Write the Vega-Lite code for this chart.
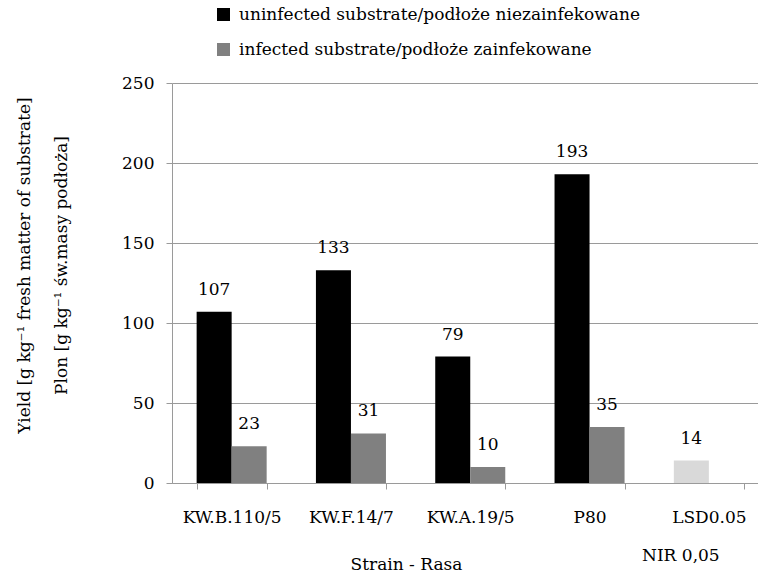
{
  "$schema": "https://vega.github.io/schema/vega-lite/v6.json",
  "autosize": {"type": "none"},
  "width": 586,
  "height": 400,
  "padding": {"left": 172, "top": 83, "right": 0, "bottom": 90},
  "background": "white",
  "config": {
    "view": {"stroke": null},
    "font": "DejaVu Serif"
  },
  "datasets": {
    "bars": [
      {"strain": "KW.B.110/5", "series": "uninfected substrate/podłoże niezainfekowane", "slot": "a", "yield": 107},
      {"strain": "KW.B.110/5", "series": "infected substrate/podłoże zainfekowane", "slot": "b", "yield": 23},
      {"strain": "KW.F.14/7", "series": "uninfected substrate/podłoże niezainfekowane", "slot": "a", "yield": 133},
      {"strain": "KW.F.14/7", "series": "infected substrate/podłoże zainfekowane", "slot": "b", "yield": 31},
      {"strain": "KW.A.19/5", "series": "uninfected substrate/podłoże niezainfekowane", "slot": "a", "yield": 79},
      {"strain": "KW.A.19/5", "series": "infected substrate/podłoże zainfekowane", "slot": "b", "yield": 10},
      {"strain": "P80", "series": "uninfected substrate/podłoże niezainfekowane", "slot": "a", "yield": 193},
      {"strain": "P80", "series": "infected substrate/podłoże zainfekowane", "slot": "b", "yield": 35},
      {"strain": "LSD0.05", "series": "LSD", "slot": "a", "yield": 14}
    ],
    "notes": [
      {"strain": "LSD0.05", "note": "NIR 0,05"}
    ]
  },
  "layer": [
    {
      "data": {"name": "bars"},
      "mark": {"type": "bar"},
      "encoding": {
        "x": {
          "field": "strain",
          "type": "nominal",
          "scale": {"domain": ["KW.B.110/5", "KW.F.14/7", "KW.A.19/5", "P80", "LSD0.05"], "range": [0, 596.5], "paddingInner": 0.413, "paddingOuter": 0.2065},
          "axis": {
            "title": "Strain - Rasa",
            "titleFont": "DejaVu Serif",
            "titleFontSize": 17,
            "titleFontWeight": "normal",
            "titleColor": "black",
            "titleX": 234,
            "titleY": 86,
            "titleAlign": "center",
            "titleBaseline": "alphabetic",
            "labelAngle": 0,
            "labelFont": "DejaVu Serif",
            "labelFontSize": 17,
            "labelColor": "black",
            "labelBaseline": "alphabetic",
            "labelPadding": 33,
            "tickBand": "extent",
            "tickSize": 6,
            "tickColor": "#9a9a9a",
            "domainColor": "#9a9a9a",
            "grid": false
          }
        },
        "xOffset": {"field": "slot", "type": "nominal", "scale": {"domain": ["a", "b"], "paddingInner": 0, "paddingOuter": 0}},
        "y": {
          "field": "yield",
          "type": "quantitative",
          "scale": {"domain": [0, 250], "nice": false},
          "axis": {
            "values": [0, 50, 100, 150, 200, 250],
            "title": ["Yield [g kg⁻¹  fresh matter of substrate]", "Plon [g kg⁻¹  św.masy podłoża]"],
            "titleFont": "DejaVu Serif",
            "titleFontSize": 17,
            "titleFontWeight": "normal",
            "titleColor": "black",
            "titleAngle": -90,
            "titleLineHeight": 37,
            "titleBaseline": "middle",
            "titleAlign": "center",
            "titleX": -148,
            "titleY": 182,
            "labelFont": "DejaVu Serif",
            "labelFontSize": 17,
            "labelColor": "black",
            "labelPadding": 12,
            "tickSize": 6,
            "tickColor": "#9a9a9a",
            "domainColor": "#9a9a9a",
            "gridColor": "#9a9a9a",
            "grid": true
          }
        },
        "color": {
          "field": "series",
          "type": "nominal",
          "scale": {
            "domain": ["uninfected substrate/podłoże niezainfekowane", "infected substrate/podłoże zainfekowane", "LSD"],
            "range": ["#000000", "#808080", "#d9d9d9"]
          },
          "legend": {
            "values": ["uninfected substrate/podłoże niezainfekowane", "infected substrate/podłoże zainfekowane"],
            "title": null,
            "orient": "none",
            "legendX": 43,
            "legendY": -77,
            "symbolType": "square",
            "symbolSize": 169,
            "symbolStrokeWidth": 0,
            "symbolOpacity": 1,
            "labelFont": "DejaVu Serif",
            "labelFontSize": 17,
            "labelColor": "black",
            "labelOffset": 7,
            "labelLimit": 600,
            "rowPadding": 17
          }
        }
      }
    },
    {
      "data": {"name": "bars"},
      "mark": {"type": "text", "font": "DejaVu Serif", "fontSize": 17, "color": "black", "baseline": "alphabetic", "dy": -17},
      "encoding": {
        "x": {"field": "strain", "type": "nominal"},
        "xOffset": {"field": "slot", "type": "nominal"},
        "y": {"field": "yield", "type": "quantitative"},
        "text": {"field": "yield", "type": "quantitative"}
      }
    },
    {
      "data": {"name": "notes"},
      "mark": {"type": "text", "font": "DejaVu Serif", "fontSize": 17, "color": "black", "baseline": "alphabetic", "align": "center", "dx": -28},
      "encoding": {
        "x": {"field": "strain", "type": "nominal", "bandPosition": 0.5},
        "y": {"datum": -49},
        "text": {"field": "note"}
      }
    }
  ]
}
